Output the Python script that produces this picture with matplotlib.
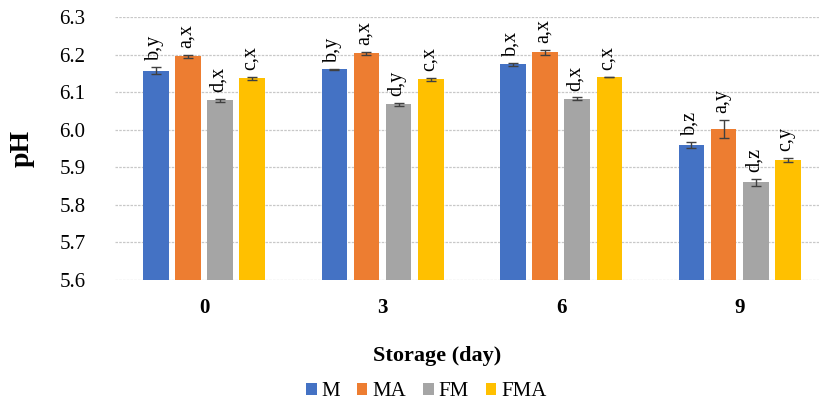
import matplotlib
matplotlib.use('Agg')
import matplotlib.pyplot as plt
import numpy as np

days = ['0', '3', '6', '9']
series = ['M', 'MA', 'FM', 'FMA']
colours = ['#4472c4', '#ed7d31', '#a5a5a5', '#ffc000']

ph_M = [6.157, 6.161, 6.174, 5.959]
ph_MA = [6.196, 6.203, 6.206, 6.002]
ph_FM = [6.078, 6.068, 6.082, 5.860]
ph_FMA = [6.137, 6.134, 6.140, 5.919]

err_M = [0.010, 0.001, 0.004, 0.009]
err_MA = [0.004, 0.004, 0.006, 0.025]
err_FM = [0.004, 0.004, 0.004, 0.009]
err_FMA = [0.004, 0.004, 0.001, 0.006]

letters_M = ['b,y', 'b,y', 'b,x', 'b,z']
letters_MA = ['a,x', 'a,x', 'a,x', 'a,y']
letters_FM = ['d,x', 'd,y', 'd,x', 'd,z']
letters_FMA = ['c,x', 'c,x', 'c,x', 'c,y']

values = [ph_M, ph_MA, ph_FM, ph_FMA]
errors = [err_M, err_MA, err_FM, err_FMA]
letters = [letters_M, letters_MA, letters_FM, letters_FMA]

plt.rcParams['font.family'] = ['Liberation Serif', 'DejaVu Serif']

fig = plt.figure(figsize=(8.2, 4.04), dpi=100)
ax = fig.add_axes([114.7 / 820, 0.307, (829 - 114.7) / 820, 0.651])

x = np.arange(len(days))
width = 0.143
step = 0.18

for i in range(len(series)):
    pos = x + (i - 1.5) * step
    ax.bar(pos, values[i], width, bottom=0, color=colours[i], label=series[i],
           yerr=errors[i], capsize=3.5,
           error_kw=dict(ecolor='#404040', elinewidth=1, capthick=1),
           zorder=3)
    for j in range(len(days)):
        ax.text(pos[j] - 0.01, values[i][j] + errors[i][j] + 0.018, letters[i][j],
                rotation=90, ha='center', va='bottom', fontsize=14.5,
                color='black', zorder=4)

ax.set_ylim(5.6, 6.3)
ax.set_xlim(-0.5, 3.5)
ax.set_yticks(np.arange(5.6, 6.31, 0.1))
ax.set_yticklabels(['{:.1f}'.format(v) for v in np.arange(5.6, 6.31, 0.1)], fontsize=15)
ax.set_xticks(x)
ax.set_xticklabels(days, fontsize=15, fontweight='bold')
ax.tick_params(axis='both', length=0)
ax.tick_params(axis='y', pad=21)
ax.tick_params(axis='x', pad=13)

ax.yaxis.grid(True, color='#c8c8c8', linestyle=(0, (2, 1)), linewidth=0.9, zorder=0)
for s in ax.spines.values():
    s.set_visible(False)

ax.set_ylabel('pH', fontsize=20, fontweight='bold', labelpad=18)
fig.text(0.533, 0.12, 'Storage (day)', ha='center', va='center',
         fontsize=16, fontweight='bold')

fig.legend(loc='center', bbox_to_anchor=(0.52, 0.03), ncol=4, frameon=False,
           fontsize=15, handlelength=0.5, handleheight=0.5, handletextpad=0.25,
           columnspacing=0.8)

fig.savefig('out.png', dpi=100)
